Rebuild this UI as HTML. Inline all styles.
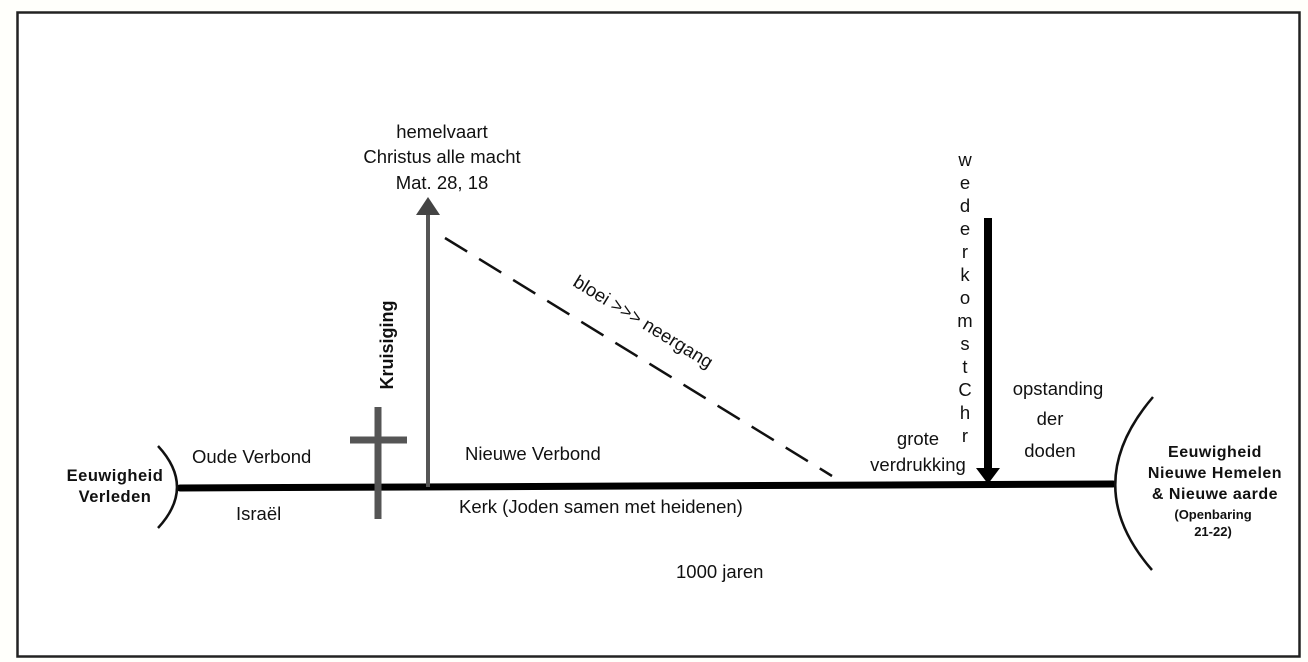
<!DOCTYPE html>
<html><head><meta charset="utf-8"><style>
body{margin:0;background:#fff;}
svg{display:block}
text{font-family:"Liberation Sans",sans-serif;fill:#111}
.b{font-weight:bold}
</style></head><body>
<svg width="1308" height="662" viewBox="0 0 1308 662">
<rect x="0" y="0" width="1308" height="662" fill="#fffffb"/>
<rect x="17.5" y="12.5" width="1282" height="644" fill="#fff" stroke="#222" stroke-width="2.5"/>
<!-- main line -->
<line x1="180" y1="488" x2="1113" y2="484" stroke="#000" stroke-width="7" stroke-linecap="round"/>
<!-- arcs -->
<path d="M158 446 Q196 487 158 528" fill="none" stroke="#111" stroke-width="2.5"/>
<path d="M1153 397 Q1078 485 1152 570" fill="none" stroke="#111" stroke-width="2.5"/>
<!-- gray arrow -->
<line x1="428" y1="487" x2="428" y2="210" stroke="#555" stroke-width="4"/>
<polygon points="428,197 416,215 440,215" fill="#444"/>
<!-- cross -->
<line x1="378" y1="407" x2="378" y2="519" stroke="#555" stroke-width="7"/>
<line x1="350" y1="440" x2="407" y2="440" stroke="#555" stroke-width="7"/>
<!-- dashed -->
<line x1="445" y1="238" x2="832" y2="476" stroke="#111" stroke-width="2.5" stroke-dasharray="26,14"/>
<!-- black arrow -->
<line x1="988" y1="218" x2="988" y2="470" stroke="#000" stroke-width="8"/>
<polygon points="976,468 1000,468 988,484" fill="#000"/>
<!-- texts -->
<g font-size="18.5">
<text x="442" y="138" text-anchor="middle">hemelvaart</text>
<text x="442" y="163" text-anchor="middle">Christus alle macht</text>
<text x="442" y="189" text-anchor="middle">Mat. 28, 18</text>
<text x="192" y="463">Oude Verbond</text>
<text x="236" y="520">Israël</text>
<text x="465" y="460">Nieuwe Verbond</text>
<text x="459" y="513">Kerk (Joden samen met heidenen)</text>
<text x="676" y="578">1000 jaren</text>
<text x="918" y="445" text-anchor="middle">grote</text>
<text x="918" y="471" text-anchor="middle">verdrukking</text>
<text x="1058" y="395" text-anchor="middle">opstanding</text>
<text x="1050" y="425" text-anchor="middle">der</text>
<text x="1050" y="457" text-anchor="middle">doden</text>
<text x="640" y="327" text-anchor="middle" transform="rotate(31.6 640 327)">bloei &gt;&gt;&gt; neergang</text>
</g>
<g font-size="18.5" text-anchor="middle">
<text x="965" y="166">w</text><text x="965" y="189">e</text><text x="965" y="212">d</text><text x="965" y="235">e</text><text x="965" y="258">r</text><text x="965" y="281">k</text><text x="965" y="304">o</text><text x="965" y="327">m</text><text x="965" y="350">s</text><text x="965" y="373">t</text><text x="965" y="396">C</text><text x="965" y="419">h</text><text x="965" y="442">r</text>
</g>
<text class="b" font-size="18" x="380" y="352" text-anchor="middle" dominant-baseline="central" transform="rotate(-90 380 345)">Kruisiging</text>
<g class="b" text-anchor="middle">
<text x="115" y="481" font-size="16.5" letter-spacing="0.5" class="b">Eeuwigheid</text>
<text x="115" y="502" font-size="16.5" letter-spacing="0.5" class="b">Verleden</text>
<text x="1215" y="457" font-size="16" letter-spacing="0.5" class="b">Eeuwigheid</text>
<text x="1215" y="478" font-size="16" letter-spacing="0.5" class="b">Nieuwe Hemelen</text>
<text x="1215" y="499" font-size="16" letter-spacing="0.5" class="b">&amp; Nieuwe aarde</text>
<text x="1213" y="519" class="b" font-size="13">(Openbaring</text>
<text x="1213" y="536" class="b" font-size="13">21-22)</text>
</g>
</svg>
</body></html>
